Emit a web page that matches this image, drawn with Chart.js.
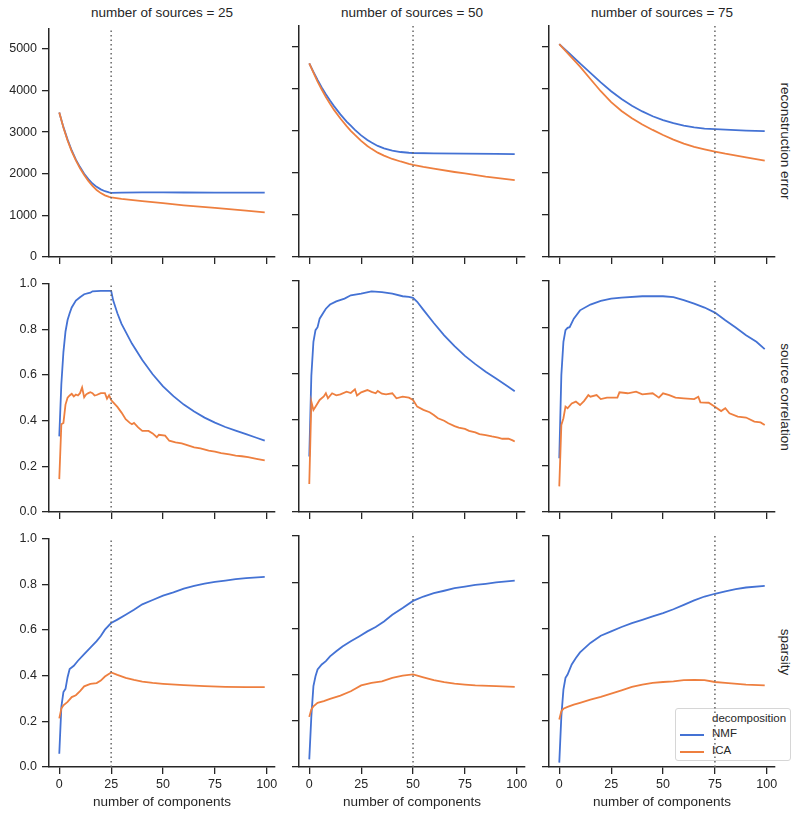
<!DOCTYPE html>
<html>
<head>
<meta charset="utf-8">
<script src="https://cdn.jsdelivr.net/npm/chart.js@4.4.0/dist/chart.umd.min.js"></script>
<style>
body{margin:0;background:#fff;width:800px;height:818px;position:relative;overflow:hidden;font-family:'Liberation Sans',Arial,sans-serif;color:#262626}
canvas{position:absolute}
.coltitle{position:absolute;top:5px;width:240px;text-align:center;font-size:13.5px}
.rowlabel{position:absolute;font-size:13.5px;white-space:nowrap;transform:translate(-50%,-50%) rotate(90deg)}
#legend{position:absolute;left:675px;top:708px;width:114px;height:51px;border:1px solid #d6d6d6;border-radius:3px;background:rgba(255,255,255,0.85);font-size:11.5px}
#legend .t{position:absolute;left:36px;top:3px}
#legend .row{position:absolute;left:36px}
#legend .sw{position:absolute;left:-32px;top:7px;width:24px;border-top:2px solid}
</style>
</head>
<body>

<div class="coltitle" style="left:42px">number of sources = 25</div>
<div class="coltitle" style="left:292px">number of sources = 50</div>
<div class="coltitle" style="left:542px">number of sources = 75</div>

<div class="rowlabel" style="left:785px;top:141px">reconstruction error</div>
<div class="rowlabel" style="left:785px;top:397px">source correlation</div>
<div class="rowlabel" style="left:785px;top:652px">sparsity</div>

<div id="legend">
  <div class="t">decomposition</div>
  <div class="row" style="top:18px"><span class="sw" style="border-color:#4472d4"></span>NMF</div>
  <div class="row" style="top:35px"><span class="sw" style="border-color:#ee7f3f"></span>ICA</div>
</div>

<script>
// facet columns
var sources = [25, 50, 75];
var rowNames = ['reconstruction error', 'source correlation', 'sparsity'];
var xTicks = [0, 25, 50, 75, 100];
var errTicks = [0, 1000, 2000, 3000, 4000, 5000];
var fracTicks = [0, 0.2, 0.4, 0.6, 0.8, 1.0];

// [number of components, value]
var errNmf25 = [[0,3470],[2,3120],[4,2820],[6,2560],[8,2340],[10,2160],[12,2000],[14,1870],[16,1765],[18,1685],[20,1625],[22,1580],[24,1552],[25,1542],[30,1548],[40,1552],[50,1552],[60,1550],[75,1546],[99,1545]];
var errIca25 = [[0,3470],[2,3110],[4,2800],[6,2540],[8,2320],[10,2130],[12,1970],[14,1830],[16,1710],[18,1610],[20,1535],[22,1480],[24,1445],[25,1435],[30,1398],[40,1342],[50,1292],[60,1242],[75,1178],[90,1112],[99,1070]];
var errNmf50 = [[0,4600],[2,4400],[4,4210],[6,4030],[8,3870],[10,3720],[12,3580],[15,3390],[18,3220],[20,3120],[22,3020],[25,2890],[28,2780],[30,2720],[33,2640],[36,2580],[40,2530],[44,2495],[48,2478],[50,2472],[60,2465],[75,2455],[90,2450],[99,2445]];
var errIca50 = [[0,4600],[2,4380],[4,4170],[6,3980],[8,3800],[10,3640],[12,3490],[15,3290],[18,3110],[20,3000],[22,2900],[25,2760],[28,2640],[30,2570],[33,2480],[36,2410],[40,2330],[44,2270],[48,2215],[50,2190],[55,2140],[60,2100],[70,2020],[75,1985],[85,1910],[99,1825]];
var errNmf75 = [[0,5060],[5,4830],[10,4600],[15,4375],[20,4150],[25,3940],[30,3755],[35,3595],[40,3460],[45,3345],[50,3255],[55,3180],[60,3120],[65,3080],[70,3052],[75,3040],[80,3025],[90,3005],[99,2990]];
var errIca75 = [[0,5060],[5,4790],[10,4524],[15,4230],[20,3940],[25,3680],[30,3470],[35,3300],[40,3150],[45,3020],[50,2900],[55,2790],[60,2695],[65,2620],[70,2560],[75,2505],[80,2455],[90,2370],[99,2290]];

var corrNmf25 = [[0,0.331],[1,0.56],[2,0.70],[3,0.79],[4,0.84],[5,0.87],[6,0.895],[8,0.925],[10,0.94],[12,0.953],[14,0.958],[15,0.96],[16,0.966],[20,0.968],[25,0.968],[26,0.925],[28,0.87],[30,0.823],[35,0.737],[40,0.665],[45,0.603],[50,0.55],[55,0.507],[60,0.47],[65,0.44],[70,0.413],[75,0.391],[80,0.372],[85,0.356],[90,0.341],[95,0.325],[99,0.312]];
var corrIca25 = [[0,0.144],[1,0.384],[2,0.39],[3,0.47],[4,0.50],[5,0.51],[6,0.517],[7,0.506],[8,0.514],[9,0.51],[10,0.52],[11,0.545],[12,0.502],[13,0.515],[14,0.52],[15,0.524],[16,0.52],[17,0.51],[18,0.512],[20,0.52],[22,0.52],[23,0.496],[24,0.511],[25,0.49],[26,0.48],[27,0.47],[28,0.46],[30,0.435],[32,0.406],[34,0.39],[35,0.384],[36,0.39],[38,0.37],[40,0.355],[43,0.355],[45,0.344],[47,0.327],[48,0.338],[51,0.334],[53,0.312],[56,0.305],[59,0.30],[62,0.292],[65,0.283],[68,0.278],[72,0.269],[75,0.264],[78,0.258],[82,0.252],[85,0.247],[88,0.244],[91,0.24],[95,0.233],[99,0.226]];
var corrNmf50 = [[0,0.24],[1,0.59],[2,0.737],[3,0.787],[4,0.80],[5,0.837],[7,0.866],[8,0.88],[10,0.898],[13,0.912],[17,0.924],[20,0.938],[25,0.945],[30,0.955],[35,0.952],[40,0.945],[45,0.934],[48,0.931],[50,0.927],[52,0.91],[55,0.875],[60,0.818],[65,0.765],[70,0.718],[75,0.676],[80,0.64],[85,0.607],[90,0.578],[95,0.548],[99,0.523]];
var corrIca50 = [[0,0.121],[1,0.478],[2,0.442],[3,0.456],[5,0.485],[7,0.50],[8,0.514],[9,0.492],[11,0.514],[13,0.505],[15,0.509],[18,0.521],[20,0.515],[22,0.531],[23,0.504],[25,0.518],[28,0.528],[30,0.52],[32,0.514],[33,0.524],[35,0.512],[37,0.509],[40,0.514],[42,0.492],[45,0.499],[48,0.495],[50,0.485],[52,0.456],[55,0.442],[58,0.432],[60,0.42],[62,0.406],[65,0.395],[67,0.384],[70,0.372],[72,0.365],[75,0.36],[77,0.351],[80,0.345],[82,0.337],[85,0.333],[88,0.327],[91,0.322],[93,0.317],[96,0.317],[98,0.31],[99,0.305]];
var corrNmf75 = [[0,0.233],[1,0.593],[2,0.737],[3,0.787],[4,0.797],[5,0.80],[7,0.837],[10,0.873],[15,0.898],[20,0.914],[25,0.924],[30,0.928],[40,0.934],[50,0.934],[55,0.93],[60,0.917],[65,0.902],[70,0.885],[75,0.863],[80,0.83],[85,0.799],[90,0.765],[95,0.737],[99,0.705]];
var corrIca75 = [[0,0.111],[1,0.377],[2,0.406],[3,0.456],[4,0.449],[6,0.47],[8,0.478],[10,0.463],[12,0.481],[14,0.506],[15,0.499],[18,0.506],[20,0.489],[23,0.495],[28,0.495],[29,0.518],[33,0.514],[37,0.521],[40,0.509],[45,0.514],[48,0.495],[50,0.514],[53,0.506],[56,0.495],[60,0.492],[65,0.489],[67,0.499],[68,0.475],[72,0.473],[75,0.456],[78,0.437],[80,0.449],[82,0.427],[86,0.413],[90,0.409],[94,0.391],[97,0.388],[99,0.377]];

var sparNmf25 = [[0,0.058],[1,0.263],[2,0.328],[3,0.342],[4,0.393],[5,0.429],[7,0.443],[9,0.465],[12,0.494],[15,0.522],[18,0.551],[20,0.573],[22,0.601],[25,0.63],[28,0.645],[32,0.666],[36,0.688],[40,0.712],[45,0.731],[50,0.75],[55,0.764],[60,0.781],[65,0.793],[70,0.803],[75,0.81],[80,0.816],[85,0.822],[90,0.827],[99,0.832]];
var sparIca25 = [[0,0.213],[1,0.256],[2,0.27],[4,0.285],[6,0.306],[8,0.314],[10,0.332],[12,0.353],[15,0.364],[18,0.367],[20,0.378],[22,0.396],[25,0.414],[28,0.403],[32,0.39],[36,0.381],[40,0.374],[45,0.368],[50,0.364],[60,0.358],[70,0.354],[80,0.351],[90,0.35],[99,0.35]];
var sparNmf50 = [[0,0.033],[1,0.22],[2,0.35],[3,0.393],[4,0.422],[6,0.444],[8,0.458],[10,0.479],[13,0.501],[16,0.522],[20,0.544],[24,0.565],[28,0.587],[32,0.606],[36,0.63],[40,0.659],[45,0.688],[50,0.719],[55,0.738],[60,0.753],[65,0.763],[70,0.774],[75,0.781],[80,0.788],[85,0.793],[90,0.799],[99,0.807]];
var sparIca50 = [[0,0.217],[1,0.249],[2,0.263],[4,0.278],[7,0.285],[10,0.295],[15,0.309],[20,0.328],[25,0.353],[30,0.364],[35,0.371],[40,0.386],[45,0.396],[50,0.401],[55,0.388],[60,0.376],[65,0.367],[70,0.361],[75,0.357],[80,0.353],[90,0.35],[99,0.347]];
var sparNmf75 = [[0,0.019],[1,0.22],[2,0.335],[3,0.386],[4,0.40],[6,0.444],[8,0.472],[10,0.496],[15,0.537],[20,0.568],[25,0.587],[30,0.606],[35,0.623],[40,0.637],[45,0.652],[50,0.666],[55,0.683],[60,0.702],[65,0.721],[70,0.738],[75,0.75],[80,0.76],[85,0.77],[90,0.777],[99,0.784]];
var sparIca75 = [[0,0.206],[1,0.242],[2,0.252],[4,0.26],[7,0.27],[10,0.278],[15,0.292],[20,0.304],[25,0.318],[30,0.332],[35,0.347],[40,0.357],[45,0.364],[50,0.368],[55,0.371],[60,0.376],[65,0.377],[70,0.376],[75,0.368],[80,0.364],[90,0.357],[99,0.353]];

var nmfSeries = [[errNmf25, errNmf50, errNmf75], [corrNmf25, corrNmf50, corrNmf75], [sparNmf25, sparNmf50, sparNmf75]];
var icaSeries = [[errIca25, errIca50, errIca75], [corrIca25, corrIca50, corrIca75], [sparIca25, sparIca50, sparIca75]];

var blue = '#4472d4';
var orange = '#ee7f3f';
var ink = '#262626';
var fam = "'Liberation Sans', Arial, sans-serif";

// where each axes box sits on the page
var axLeft = [49, 299, 549];
var axTop = [26, 281, 536];
var axW = 226, axH = 231;
var padL = 49, padT = 10, padR = 8, padB = 43;

function toXY(pairs) {
  return pairs.map(function(p){ return {x: p[0], y: p[1]}; });
}

function makePanel(row, col) {
  var cv = document.createElement('canvas');
  cv.width = padL + axW + padR;
  cv.height = padT + axH + padB;
  cv.style.left = (axLeft[col] - padL) + 'px';
  cv.style.top = (axTop[row] - padT) + 'px';
  document.body.appendChild(cv);

  var yTop = row == 0 ? 5490 : 1;
  var yTicks = row == 0 ? errTicks : fracTicks;

  new Chart(cv, {
    type: 'line',
    data: {
      datasets: [
        {
          label: 'n sources',
          data: [{x: sources[col], y: 0}, {x: sources[col], y: yTop}],
          borderColor: '#666',
          borderWidth: 1.5,
          borderDash: [1.5, 3],
          pointRadius: 0,
          order: 0
        },
        {
          label: 'ICA',
          data: toXY(icaSeries[row][col]),
          borderColor: orange,
          borderWidth: 1.8,
          pointRadius: 0,
          order: 1
        },
        {
          label: 'NMF',
          data: toXY(nmfSeries[row][col]),
          borderColor: blue,
          borderWidth: 1.8,
          pointRadius: 0,
          order: 2
        }
      ]
    },
    options: {
      responsive: false,
      animation: false,
      devicePixelRatio: 1,
      layout: {padding: {top: padT, right: padR, left: 0, bottom: 0}},
      plugins: {legend: {display: false}, tooltip: {enabled: false}},
      scales: {
        x: {
          type: 'linear',
          min: -4.95,
          max: 103.95,
          afterBuildTicks: function(s){ s.ticks = xTicks.map(function(v){ return {value: v}; }); },
          afterFit: function(s){ s.height = padB; },
          grid: {drawOnChartArea: false, drawTicks: true, tickLength: 7, color: ink, lineWidth: 1.3},
          border: {display: true, color: ink, width: 1.5},
          ticks: {display: row == 2, color: ink, padding: 3, autoSkip: false, maxRotation: 0, font: {size: 12.5, family: fam}},
          title: {display: row == 2, text: 'number of components', color: ink, padding: 0, font: {size: 13.5, family: fam}}
        },
        y: {
          type: 'linear',
          min: 0,
          max: yTop,
          afterBuildTicks: function(s){ s.ticks = yTicks.map(function(v){ return {value: v}; }); },
          afterFit: function(s){ s.width = padL; },
          grid: {drawOnChartArea: false, drawTicks: true, tickLength: 7, color: ink, lineWidth: 1.3},
          border: {display: true, color: ink, width: 1.5},
          ticks: {
            display: col == 0,
            color: ink,
            padding: 5,
            font: {size: 12.5, family: fam},
            callback: function(v){ return row == 0 ? String(v) : v.toFixed(1); }
          }
        }
      }
    }
  });
}

for (var r = 0; r < 3; r++) {
  for (var c = 0; c < 3; c++) {
    makePanel(r, c);
  }
}
</script>
</body>
</html>
